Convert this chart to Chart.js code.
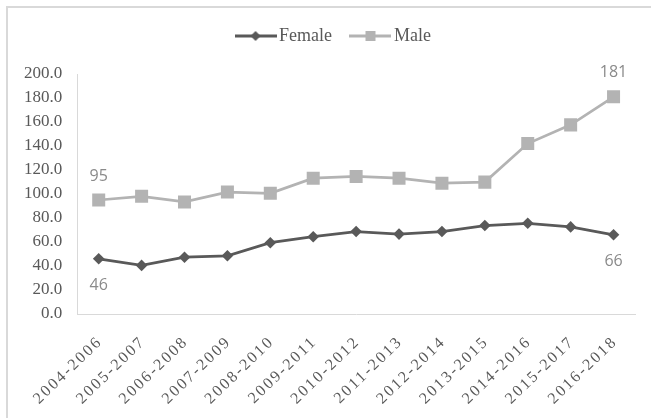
<!DOCTYPE html>
<html>
<head>
<meta charset="utf-8">
<script src="https://cdn.jsdelivr.net/npm/chart.js@4/dist/chart.umd.min.js"></script>
<style>
  html, body { margin: 0; padding: 0; background: #fff; }
  #wrap { position: relative; width: 651px; height: 418px; overflow: hidden; }
  #frame { position: absolute; left: 6px; top: 6px; width: 700px; height: 500px; border: 2px solid #d9d9d9; }
  #chart { position: absolute; left: 0; top: 0; }
</style>
</head>
<body>
<div id="wrap">
  <div id="frame"></div>
  <canvas id="chart" width="651" height="418"></canvas>
</div>
<script>
const periods = ['2004-2006', '2005-2007', '2006-2008', '2007-2009', '2008-2010', '2009-2011',
  '2010-2012', '2011-2013', '2012-2014', '2013-2015', '2014-2016', '2015-2017', '2016-2018'];
const female = [46, 40.5, 47.3, 48.5, 59.4, 64.4, 68.7, 66.6, 68.7, 73.7, 75.6, 72.6, 66];
const male = [95, 98.1, 93.4, 101.6, 100.6, 113.2, 114.6, 113.2, 109, 109.9, 142, 157.6, 181];
// only the first and last points carry a value label
const labelled = [0, periods.length - 1];

const DARK = '#595959';
const LIGHT = '#b3b3b3';

// legend swatch: short line with the marker in the middle
function swatch(color, marker) {
  const c = document.createElement('canvas');
  c.width = 42; c.height = 14;
  const g = c.getContext('2d');
  g.strokeStyle = color;
  g.lineWidth = 3;
  g.beginPath(); g.moveTo(0, 7); g.lineTo(42, 7); g.stroke();
  g.fillStyle = color;
  if (marker === 'diamond') {
    g.beginPath(); g.moveTo(21, 2); g.lineTo(26, 7); g.lineTo(21, 12); g.lineTo(16, 7); g.closePath(); g.fill();
  } else {
    g.fillRect(16, 2, 10, 10);
  }
  return c;
}

// extra room under the legend, and nudge it a little to the right
const legendSpacing = {
  id: 'legendSpacing',
  afterInit(chart) {
    const legend = chart.legend;
    const fit = legend.fit;
    legend.fit = function () {
      fit.call(this);
      this.height += 19;
    };
  },
  afterLayout(chart) {
    chart.legend.left += 14;
    chart.legend.right += 14;
  }
};

const valueLabels = {
  id: 'valueLabels',
  afterDatasetsDraw(chart) {
    const ctx = chart.ctx;
    ctx.save();
    ctx.font = '16px "Open Sans"';
    ctx.fillStyle = '#8a8a8a';
    ctx.textAlign = 'center';
    ctx.textBaseline = 'middle';
    chart.data.datasets.forEach((ds, di) => {
      const meta = chart.getDatasetMeta(di);
      labelled.forEach(i => {
        const pt = meta.data[i];
        const dy = ds.label === 'Male' ? -24 : 27;
        ctx.fillText(String(ds.data[i]), pt.x, pt.y + dy);
      });
    });
    ctx.restore();
  }
};

// rotated category labels, drawn at the x scale's own positions
const slantLabels = {
  id: 'slantLabels',
  afterDraw(chart) {
    const xs = chart.scales.x;
    const ctx = chart.ctx;
    ctx.save();
    ctx.font = '16px "Liberation Serif"';
    ctx.fillStyle = DARK;
    ctx.letterSpacing = '2.2px';
    ctx.textAlign = 'right';
    ctx.textBaseline = 'middle';
    periods.forEach((p, i) => {
      const x = xs.getPixelForValue(i);
      ctx.save();
      ctx.translate(x + 1.5, xs.top + 25.5);
      ctx.rotate(-44 * Math.PI / 180);
      ctx.fillText(p, 0, 0);
      ctx.restore();
    });
    ctx.restore();
  }
};

new Chart(document.getElementById('chart'), {
  type: 'line',
  data: {
    labels: periods,
    datasets: [
      {
        label: 'Female',
        data: female,
        borderColor: DARK,
        backgroundColor: DARK,
        borderWidth: 2.75,
        pointStyle: 'rectRot',
        pointRadius: 5.8,
        pointBorderWidth: 0,
        pointHoverRadius: 5.8,
        tension: 0
      },
      {
        label: 'Male',
        data: male,
        borderColor: LIGHT,
        backgroundColor: LIGHT,
        borderWidth: 2.75,
        pointStyle: 'rect',
        pointRadius: 9.2,
        pointBorderWidth: 0,
        pointHoverRadius: 9.2,
        tension: 0
      }
    ]
  },
  options: {
    responsive: false,
    animation: false,
    layout: { padding: { left: 9, right: 16, top: 3, bottom: 104 } },
    plugins: {
      tooltip: { enabled: false },
      legend: {
        position: 'top',
        labels: {
          usePointStyle: true,
          pointStyleWidth: 29,
          padding: 24,
          color: DARK,
          font: { family: '"Liberation Serif"', size: 18 },
          generateLabels(chart) {
            return chart.data.datasets.map((ds, i) => ({
              text: ds.label,
              pointStyle: swatch(ds.borderColor, i === 0 ? 'diamond' : 'square'),
              fontColor: DARK,
              strokeStyle: ds.borderColor,
              fillStyle: ds.borderColor,
              lineWidth: 0,
              hidden: false,
              datasetIndex: i
            }));
          }
        }
      }
    },
    scales: {
      x: {
        offset: true,
        grid: { display: false, drawTicks: false },
        border: { display: true, color: '#d9d9d9', width: 1 },
        ticks: { display: false }
      },
      y: {
        min: 0,
        max: 200,
        ticks: {
          stepSize: 20,
          padding: 15,
          color: DARK,
          font: { family: '"Liberation Serif"', size: 17 },
          callback: v => v.toFixed(1)
        },
        grid: { display: false, drawTicks: false },
        border: { display: true, color: '#d9d9d9', width: 1 }
      }
    }
  },
  plugins: [legendSpacing, valueLabels, slantLabels]
});
</script>
</body>
</html>
